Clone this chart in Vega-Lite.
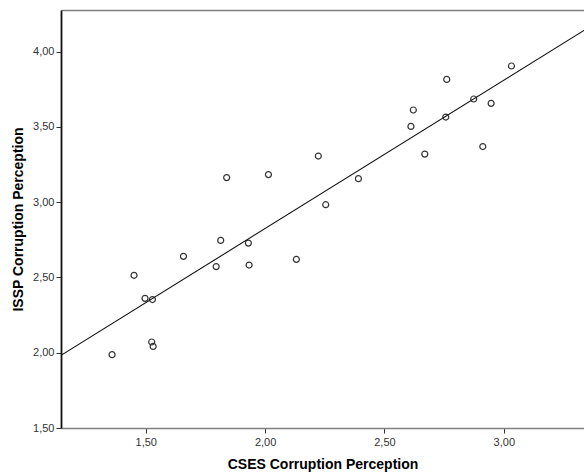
{
  "$schema": "https://vega.github.io/schema/vega-lite/v6.json",
  "width": 523,
  "height": 418,
  "autosize": {"type": "none"},
  "padding": {"left": 61, "top": 10, "right": 0, "bottom": 45},
  "background": "white",
  "config": {
    "view": {"stroke": null},
    "font": "Liberation Sans",
    "axis": {
      "labelFont": "Liberation Sans",
      "titleFont": "Liberation Sans",
      "labelFontSize": 11,
      "labelColor": "#333333",
      "titleFontSize": 14,
      "titleFontWeight": "bold",
      "titleColor": "#000000",
      "grid": false,
      "tickColor": "#333333",
      "tickSize": 5,
      "tickWidth": 1
    }
  },
  "data": {
    "values": [
      {"CSES": 1.359, "ISSP": 1.987},
      {"CSES": 1.451, "ISSP": 2.514},
      {"CSES": 1.497, "ISSP": 2.361},
      {"CSES": 1.528, "ISSP": 2.353},
      {"CSES": 1.525, "ISSP": 2.071},
      {"CSES": 1.531, "ISSP": 2.042},
      {"CSES": 1.658, "ISSP": 2.640},
      {"CSES": 1.795, "ISSP": 2.572},
      {"CSES": 1.814, "ISSP": 2.746},
      {"CSES": 1.839, "ISSP": 3.163},
      {"CSES": 1.930, "ISSP": 2.728},
      {"CSES": 1.933, "ISSP": 2.582},
      {"CSES": 2.014, "ISSP": 3.183},
      {"CSES": 2.131, "ISSP": 2.620},
      {"CSES": 2.223, "ISSP": 3.306},
      {"CSES": 2.254, "ISSP": 2.983},
      {"CSES": 2.391, "ISSP": 3.156},
      {"CSES": 2.611, "ISSP": 3.503},
      {"CSES": 2.621, "ISSP": 3.612},
      {"CSES": 2.669, "ISSP": 3.319},
      {"CSES": 2.757, "ISSP": 3.565},
      {"CSES": 2.761, "ISSP": 3.815},
      {"CSES": 2.874, "ISSP": 3.685},
      {"CSES": 2.912, "ISSP": 3.369},
      {"CSES": 2.947, "ISSP": 3.656},
      {"CSES": 3.032, "ISSP": 3.904}
    ]
  },
  "layer": [
    {
      "mark": {"type": "point", "shape": "circle", "filled": false, "stroke": "#333333", "strokeWidth": 1.2, "size": 36, "opacity": 1},
      "encoding": {
        "x": {
          "field": "CSES", "type": "quantitative",
          "scale": {"domain": [1.145, 3.336], "nice": false, "zero": false},
          "axis": {
            "title": "CSES Corruption Perception",
            "values": [1.5, 2.0, 2.5, 3.0],
            "labelExpr": "replace(format(datum.value, '.2f'), '.', ',')",
            "domainColor": "#808080",
            "domainWidth": 1.5,
            "labelPadding": 3,
            "titlePadding": 10
          }
        },
        "y": {
          "field": "ISSP", "type": "quantitative",
          "scale": {"domain": [1.5, 4.276], "nice": false, "zero": false},
          "axis": {
            "title": "ISSP Corruption Perception",
            "values": [1.5, 2.0, 2.5, 3.0, 3.5, 4.0],
            "labelExpr": "replace(format(datum.value, '.2f'), '.', ',')",
            "domainColor": "#111111",
            "domainWidth": 1.8,
            "labelPadding": 2,
            "titlePadding": 7
          }
        }
      }
    },
    {
      "transform": [
        {"regression": "ISSP", "on": "CSES", "extent": [1.145, 3.336]}
      ],
      "mark": {"type": "line", "color": "#111111", "strokeWidth": 1.1, "clip": true},
      "encoding": {
        "x": {
          "field": "CSES", "type": "quantitative",
          "axis": {"orient": "top", "title": null, "labels": false, "ticks": false, "domainColor": "#808080", "domainWidth": 1.5}
        },
        "y": {"field": "ISSP", "type": "quantitative"}
      }
    }
  ],
  "resolve": {"axis": {"x": "independent"}}
}
